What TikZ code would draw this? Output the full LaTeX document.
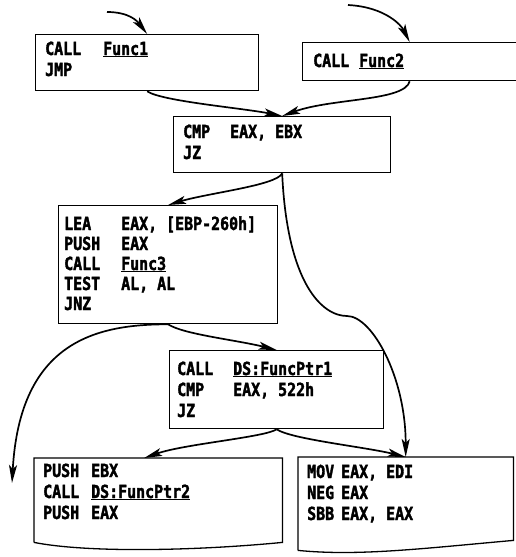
\documentclass[tikz,border=0pt]{standalone}
\usepackage{fontspec}
\newfontfamily\asmfont{DejaVu Sans Mono}[FakeStretch=0.83, BoldFeatures={FakeBold=2}]
\usetikzlibrary{arrows.meta,calc}

\begin{document}
\begin{tikzpicture}[x=1pt, y=-1pt, >={Stealth[length=18pt,width=8pt,inset=4pt]},
  blk/.style={draw, line width=1.3pt, anchor=north west, inner sep=0pt},
  docblk/.style={anchor=north west, inner sep=0pt},
  code/.style={anchor=base west, inner sep=0pt, font=\asmfont\bfseries\fontsize{18}{21}\selectfont},
  flow/.style={->, line width=1.7pt}]
\useasboundingbox (0,0) rectangle (515,557);

% blocks
\node[blk, minimum width=223pt, minimum height=56pt] (b1) at (35,34) {};
\node[blk, minimum width=214pt, minimum height=38pt] (b2) at (302,42) {};
\node[blk, minimum width=217pt, minimum height=56pt] (b3) at (173,116) {};
\node[blk, minimum width=219pt, minimum height=118pt] (b4) at (58,205) {};
\node[blk, minimum width=214pt, minimum height=78pt] (b5) at (169,350) {};
\node[docblk, minimum width=248pt, minimum height=84pt] (b6) at (34,458) {};
\node[docblk, minimum width=215pt, minimum height=88pt] (b7) at (298,457) {};

% wavy bottoms
\draw[line width=1.3pt] (b6.south west) -- (b6.north west) -- (b6.north east) -- (b6.south east)
  .. controls +(-82,8) and +(56,11) .. (b6.south west);
\draw[line width=1.3pt] ($(b7.south west)+(0,5)$) -- (b7.north west) -- (b7.north east) -- ($(b7.south east)+(0,-5)$)
  .. controls +(-90,8) and +(60,6) .. ($(b7.south west)+(0,5)$);

% code
\node[code] (t1) at ($(b1.north west)+(10,21)$)
  {\begin{tabular}[t]{@{}p{58pt}@{}l@{}}CALL & \underline{Func1}\\ JMP & \end{tabular}};
\node[code] (t2) at ($(b2.north west)+(11,25)$)
  {\begin{tabular}[t]{@{}p{46pt}@{}l@{}}CALL & \underline{Func2}\end{tabular}};
\node[code] (t3) at ($(b3.north west)+(10,22)$)
  {\begin{tabular}[t]{@{}p{47pt}@{}l@{}}CMP & EAX, EBX\\ JZ & \end{tabular}};
\node[code, font=\asmfont\bfseries\fontsize{18}{20}\selectfont] (t4) at ($(b4.north west)+(6,25)$)
  {\begin{tabular}[t]{@{}p{57pt}@{}l@{}}LEA & EAX, [EBP-260h]\\ PUSH & EAX\\ CALL & \underline{Func3}\\ TEST & AL, AL\\ JNZ & \end{tabular}};
\node[code] (t5) at ($(b5.north west)+(8,25)$)
  {\begin{tabular}[t]{@{}p{56pt}@{}l@{}}CALL & \underline{DS:FuncPtr1}\\ CMP & EAX, 522h\\ JZ & \end{tabular}};
\node[code] (t6) at ($(b6.north west)+(9,19)$)
  {\begin{tabular}[t]{@{}p{48pt}@{}l@{}}PUSH & EBX\\ CALL & \underline{DS:FuncPtr2}\\ PUSH & EAX\end{tabular}};
\node[code] (t7) at ($(b7.north west)+(9,21)$)
  {\begin{tabular}[t]{@{}p{34pt}@{}l@{}}MOV & EAX, EDI\\ NEG & EAX\\ SBB & EAX, EAX\end{tabular}};

% flow
\coordinate (in1) at (107,12);
\coordinate (in2) at (348,5);
\coordinate (out1) at (12,483);
\coordinate (bend) at (347,316);
\draw[flow] (in1) .. controls +(22,0) and +(-10,-13) .. (b1.north);
\draw[flow] (in2) .. controls +(38,2) and +(-8,-16) .. (b2.north);
\draw[flow] (b1.south) .. controls +(15,10) and +(-40,-8) .. (b3.north);
\draw[flow] (b2.south) .. controls +(-5,20) and +(50,-18) .. (b3.north);
\draw[flow] (b3.south) .. controls +(-5,12) and +(40,-12) .. (b4.north);
\draw[flow] (b3.south) .. controls +(5,110) and +(-25,0) .. (bend)
  .. controls +(25,0) and +(0,-80) .. (b7.north);
\draw[flow] (b4.south) .. controls +(15,10) and +(-40,-10) .. (b5.north);
\draw[flow] (b4.south) .. controls +(-70,0) and +(8,-143) .. (out1);
\draw[flow] (b5.south) .. controls +(-12,8) and +(40,-14) .. ($(b6.north)+(-14,0)$);
\draw[flow] (b5.south) .. controls +(15,10) and +(-40,-10) .. (b7.north);
\end{tikzpicture}
\end{document}
